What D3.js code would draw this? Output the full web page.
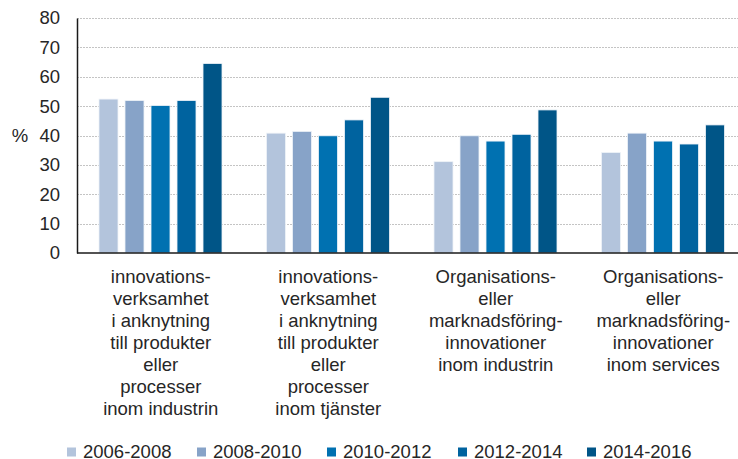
<!DOCTYPE html>
<html>
<head>
<meta charset="utf-8">
<script src="https://cdn.jsdelivr.net/npm/d3@7"></script>
<style>
  body { margin: 0; background: #fff; }
  text { font-family: "Liberation Sans", Arial, sans-serif; fill: #262626; }
</style>
</head>
<body>
<svg id="chart" width="738" height="459"></svg>
<script>
// categories (multi-line labels)
const categories = [
    ["innovations-", "verksamhet", "i anknytning", "till produkter", "eller", "processer", "inom industrin"],
    ["innovations-", "verksamhet", "i anknytning", "till produkter", "eller", "processer", "inom tjänster"],
    ["Organisations-", "eller", "marknadsföring-", "innovationer", "inom industrin"],
    ["Organisations-", "eller", "marknadsföring-", "innovationer", "inom services"]
];
const periods = ["2006-2008", "2008-2010", "2010-2012", "2012-2014", "2014-2016"];
const colors = ["#b3c4dc", "#87a3c8", "#0071b1", "#00639f", "#005587"];

// values per period, one per category
const v2006 = [52.4, 40.8, 31.1, 34.2];
const v2008 = [51.9, 41.4, 39.9, 40.8];
const v2010 = [50.2, 39.9, 38.1, 38.1];
const v2012 = [51.9, 45.3, 40.4, 37.1];
const v2014 = [64.5, 53.0, 48.7, 43.6];
const series = [v2006, v2008, v2010, v2012, v2014];

const yTicks = [0, 10, 20, 30, 40, 50, 60, 70, 80];

const margin = {top: 18, left: 77, bottom: 253, right: 747};
const svg = d3.select("#chart");

const x = d3.scaleBand()
    .domain(d3.range(categories.length))
    .range([margin.left, margin.right])
    .padding(0);

const xInner = d3.scaleBand()
    .domain(d3.range(periods.length))
    .range([22, 145])
    .paddingInner(0.27)
    .paddingOuter(0);

const y = d3.scaleLinear()
    .domain([0, 80])
    .range([margin.bottom, margin.top]);

// gridlines
svg.append("g")
    .selectAll("line")
    .data(yTicks.filter(d => d > 0))
    .join("line")
    .attr("x1", margin.left)
    .attr("x2", 738)
    .attr("y1", d => Math.round(y(d)) + 0.5)
    .attr("y2", d => Math.round(y(d)) + 0.5)
    .attr("stroke", "#c4c4c4")
    .attr("stroke-width", 1)
    .attr("stroke-dasharray", "2,1");

// bars
const cells = [];
series.forEach((s, si) => s.forEach((v, ci) => cells.push({si: si, ci: ci, v: v})));

svg.append("g")
    .selectAll("rect")
    .data(cells)
    .join("rect")
    .attr("x", d => x(d.ci) + xInner(d.si))
    .attr("width", xInner.bandwidth())
    .attr("y", d => y(d.v))
    .attr("height", d => y(0) - y(d.v))
    .attr("fill", d => colors[d.si])
    .attr("stroke", "#eef3f8")
    .attr("stroke-width", 0.8);

// y axis
const yAxis = svg.append("g")
    .attr("transform", `translate(${margin.left},0)`)
    .call(d3.axisLeft(y).tickValues(yTicks).tickSize(0).tickPadding(17));
yAxis.select(".domain").attr("stroke", "#1a1a1a").attr("stroke-width", 1.5);
yAxis.selectAll("text")
    .style("font-size", "18.5px")
    .style("font-family", "'Liberation Sans', Arial, sans-serif")
    .attr("fill", "#262626");

// x axis line
svg.append("line")
    .attr("x1", margin.left)
    .attr("x2", 738)
    .attr("y1", y(0))
    .attr("y2", y(0))
    .attr("stroke", "#1a1a1a")
    .attr("stroke-width", 1.5);

// % label
svg.append("text")
    .attr("x", 20)
    .attr("y", y(40))
    .attr("dy", "0.35em")
    .attr("text-anchor", "middle")
    .style("font-size", "18.5px")
    .text("%");

// category labels
const catLabels = svg.append("g")
    .selectAll("text")
    .data(categories)
    .join("text")
    .attr("x", (d, i) => x(i) + x.bandwidth() / 2)
    .attr("y", 283)
    .attr("text-anchor", "middle")
    .style("font-size", "18.5px");
catLabels.selectAll("tspan")
    .data(d => d)
    .join("tspan")
    .attr("x", function() { return d3.select(this.parentNode).attr("x"); })
    .attr("dy", (d, i) => i === 0 ? 0 : 22)
    .text(d => d);

// legend
const legendX = [67, 197, 327, 458, 587];
const legend = svg.append("g")
    .selectAll("g")
    .data(periods)
    .join("g")
    .attr("transform", (d, i) => `translate(${legendX[i]},452)`);
legend.append("rect")
    .attr("x", 0)
    .attr("y", -4.5)
    .attr("width", 9)
    .attr("height", 9)
    .attr("fill", (d, i) => colors[i]);
legend.append("text")
    .attr("x", 16)
    .attr("dy", "0.35em")
    .style("font-size", "18.5px")
    .text(d => d);
</script>
</body>
</html>
